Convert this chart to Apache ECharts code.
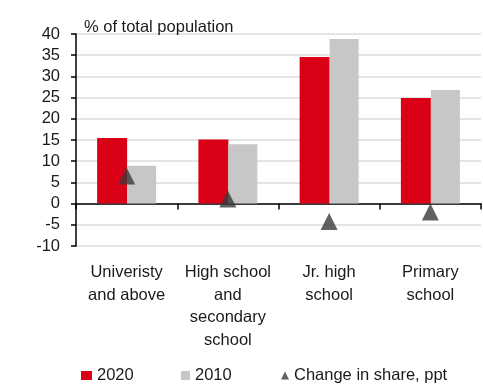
<!DOCTYPE html>
<html>
<head>
<meta charset="utf-8">
<script src="https://cdn.jsdelivr.net/npm/echarts@6/dist/echarts.min.js"></script>
<style>html,body{margin:0;padding:0;background:#fff}#c{width:483px;height:385px}</style>
</head>
<body>
<div id="c"></div>
<script>
var categories = ['Univeristy\nand above', 'High school\nand\nsecondary\nschool', 'Jr. high\nschool', 'Primary\nschool'];
var share2020 = [15.5, 15.1, 34.6, 24.9];
var share2010 = [8.9, 14.0, 38.8, 26.8];
var changePpt = [6.5, 1.1, -4.2, -2.0];
var yTicks = { min: -10, max: 40, interval: 5 };
var titleText = '% of total population';

var FONT = '"Liberation Sans", Arial, sans-serif';
var chart = echarts.init(document.getElementById('c'));
chart.setOption({
  animation: false,
  textStyle: { fontFamily: FONT },
  title: { text: titleText, left: 79, top: 14,
    textStyle: { fontFamily: FONT, fontSize: 16.5, fontWeight: 'normal', color: '#1a1a1a' } },
  grid: { left: 76, right: 2, top: 34, bottom: 139, containLabel: false, outerBoundsMode: 'none' },
  legend: [
    { data: [{ name: '2020', icon: 'rect' }], left: 81, top: 367, padding: 0, itemWidth: 11, itemHeight: 9, itemGap: 5,
      textStyle: { fontFamily: FONT, fontSize: 16.5, color: '#1a1a1a' } },
    { data: [{ name: '2010', icon: 'rect' }], left: 181, top: 367, padding: 0, itemWidth: 9, itemHeight: 9,
      textStyle: { fontFamily: FONT, fontSize: 16.5, color: '#1a1a1a' } },
    { data: [{ name: 'Change in share, ppt', icon: 'triangle' }], left: 281, top: 367, padding: 0, itemWidth: 8, itemHeight: 8,
      textStyle: { fontFamily: FONT, fontSize: 16.5, color: '#1a1a1a' } }
  ],
  xAxis: {
    type: 'category', data: categories,
    axisLine: { onZero: true, lineStyle: { color: '#000', width: 1.5 } },
    axisTick: { show: true, length: 6, inside: false, alignWithLabel: false, lineStyle: { color: '#000', width: 1.5 } },
    axisLabel: { margin: 15, interval: 0, fontFamily: FONT, fontSize: 16.5, color: '#1a1a1a', lineHeight: 22.7 },
    splitLine: { show: false }
  },
  yAxis: {
    type: 'value', min: yTicks.min, max: yTicks.max, interval: yTicks.interval,
    axisLine: { show: true, lineStyle: { color: '#000', width: 1.5 } },
    axisTick: { show: true, length: 5, lineStyle: { color: '#000', width: 1.5 } },
    axisLabel: { margin: 16, fontFamily: FONT, fontSize: 16.5, color: '#1a1a1a' },
    splitLine: { show: true, lineStyle: { color: '#dcdcdc', width: 1.5 } }
  },
  series: [
    { name: '2020', type: 'bar', data: share2020, barWidth: 30, barGap: '0%',
      itemStyle: { color: '#da0016' }, z: 2 },
    { name: '2010', type: 'bar', data: share2010, barWidth: 29,
      itemStyle: { color: '#c7c7c7' }, z: 2 },
    { name: 'Change in share, ppt', type: 'scatter', data: changePpt, symbol: 'triangle',
      symbolSize: [17, 17], itemStyle: { color: '#3a3a3a' }, z: 5 }
  ]
});
</script>
</body>
</html>
